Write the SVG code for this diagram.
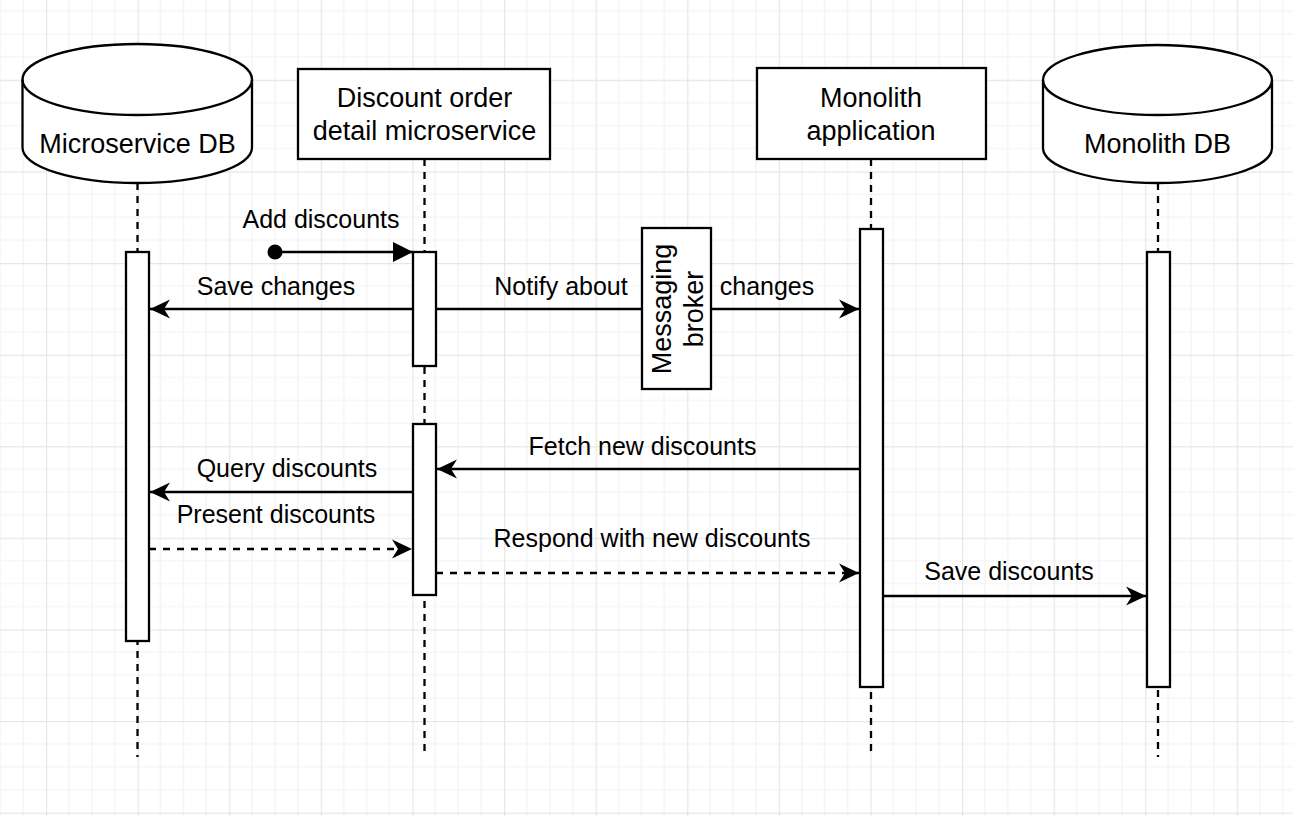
<svg xmlns="http://www.w3.org/2000/svg" width="1293" height="816" viewBox="0 0 1293 816">
  <defs>
    <pattern id="grid" patternUnits="userSpaceOnUse" x="46" y="79.8" width="91.6" height="91.6">
      <path d="M22.9,0V91.6M45.8,0V91.6M68.7,0V91.6M0,22.9H91.6M0,45.8H91.6M0,68.7H91.6" stroke="#f2f2f2" stroke-width="1.2" fill="none"/>
      <path d="M0.5,0V91.6M0,0.5H91.6" stroke="#e6e6e6" stroke-width="1.4" fill="none"/>
    </pattern>
    <marker id="classic" markerUnits="userSpaceOnUse" markerWidth="24" markerHeight="22" viewBox="-22 -11 24 22" refX="0" refY="0" orient="auto" overflow="visible">
      <path d="M0,0 L-20,-9.5 L-14,0 L-20,9.5 Z" fill="#000"/>
    </marker>
    <marker id="block" markerUnits="userSpaceOnUse" markerWidth="24" markerHeight="22" viewBox="-22 -11 24 22" refX="0" refY="0" orient="auto" overflow="visible">
      <path d="M0,0 L-20,-10 L-20,10 Z" fill="#000"/>
    </marker>
  </defs>
  <style>
    .shape { fill: #fff; stroke: #000; stroke-width: 2.3; }
    .lifeline { stroke: #000; stroke-width: 2.3; stroke-dasharray: 7 6; fill: none; }
    .msg { stroke: #000; stroke-width: 2.3; fill: none; marker-end: url(#classic); }
    .dashed { stroke-dasharray: 7 7; }
    .node-label { font-family: "Liberation Sans", Arial, sans-serif; font-size: 27px; fill: #000; text-anchor: middle; }
    .edge-label { font-family: "Liberation Sans", Arial, sans-serif; font-size: 25px; fill: #000; text-anchor: middle; }
  </style>

  <!-- background grid -->
  <rect width="1293" height="816" fill="#fff"/>
  <rect width="1293" height="816" fill="url(#grid)"/>

  <!-- lifelines -->
  <g id="lifelines">
    <line class="lifeline" x1="137.5" y1="183" x2="137.5" y2="757"/>
    <line class="lifeline" x1="424.5" y1="159" x2="424.5" y2="757"/>
    <line class="lifeline" x1="871" y1="159" x2="871" y2="757"/>
    <line class="lifeline" x1="1158" y1="183" x2="1158" y2="757"/>
  </g>

  <!-- participants -->
  <g id="microservice-db">
    <path class="shape" d="M22.5,79.5 A114.75,35.5 0 0 1 252,79.5 L252,147.5 A114.75,35.5 0 0 1 22.5,147.5 Z"/>
    <path class="shape" d="M22.5,79.5 A114.75,35.5 0 0 0 252,79.5" style="fill:none"/>
    <text class="node-label" x="137.5" y="153">Microservice DB</text>
  </g>

  <g id="discount-service">
    <rect class="shape" x="298" y="69" width="252" height="90"/>
    <text class="node-label" x="424.5" y="107">Discount order</text>
    <text class="node-label" x="424.5" y="140">detail microservice</text>
  </g>

  <g id="monolith-app">
    <rect class="shape" x="757" y="68" width="229" height="91"/>
    <text class="node-label" x="871" y="107">Monolith</text>
    <text class="node-label" x="871" y="140">application</text>
  </g>

  <g id="monolith-db">
    <path class="shape" d="M1043,80 A114.5,35 0 0 1 1272,80 L1272,148 A114.5,35 0 0 1 1043,148 Z"/>
    <path class="shape" d="M1043,80 A114.5,35 0 0 0 1272,80" style="fill:none"/>
    <text class="node-label" x="1157.5" y="153">Monolith DB</text>
  </g>

  <!-- activation bars -->
  <g id="activations">
    <rect id="act-msdb" class="shape" x="126" y="252" width="23" height="389"/>
    <rect id="act-svc-1" class="shape" x="413" y="252" width="23" height="114"/>
    <rect id="act-svc-2" class="shape" x="413" y="424" width="23" height="171"/>
    <rect id="act-mono" class="shape" x="860" y="229" width="23" height="458"/>
    <rect id="act-monodb" class="shape" x="1147" y="252" width="23" height="435"/>
  </g>

  <!-- messages -->
  <g id="connectors">
    <circle cx="275" cy="252" r="7.5" fill="#000"/>
    <line x1="275" y1="252" x2="413" y2="252" stroke="#000" stroke-width="2.3" marker-end="url(#block)"/>
    <line class="msg" x1="413" y1="309" x2="150" y2="309"/>
    <line class="msg" x1="436" y1="309" x2="859" y2="309"/>
    <line class="msg" x1="860" y1="469" x2="437" y2="469"/>
    <line class="msg" x1="413" y1="492" x2="150" y2="492"/>
    <line class="msg dashed" x1="149" y1="549" x2="412" y2="549"/>
    <line class="msg dashed" x1="436" y1="573" x2="859" y2="573"/>
    <line class="msg" x1="883" y1="596" x2="1146" y2="596"/>

    <text class="edge-label" x="321" y="228">Add discounts</text>
    <text class="edge-label" x="276" y="295">Save changes</text>
    <text class="edge-label" x="561" y="295">Notify about</text>
    <text class="edge-label" x="767" y="295">changes</text>
    <text class="edge-label" x="642.5" y="455">Fetch new discounts</text>
    <text class="edge-label" x="287" y="477">Query discounts</text>
    <text class="edge-label" x="276" y="523">Present discounts</text>
    <text class="edge-label" x="652" y="547">Respond with new discounts</text>
    <text class="edge-label" x="1009" y="580">Save discounts</text>
  </g>

  <!-- broker sits on top of the notification line -->
  <g id="messaging-broker">
    <rect class="shape" x="642" y="228" width="69" height="161"/>
    <g transform="translate(676.5,309) rotate(-90)">
      <text class="node-label" x="0" y="-6">Messaging</text>
      <text class="node-label" x="0" y="26">broker</text>
    </g>
  </g>
</svg>
